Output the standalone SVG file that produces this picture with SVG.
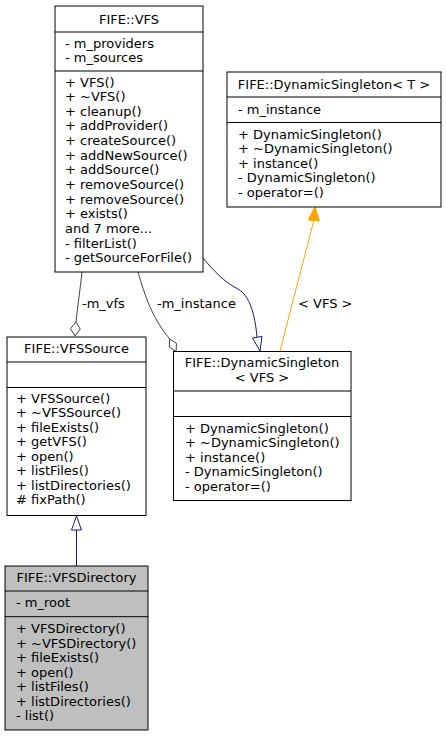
<svg xmlns="http://www.w3.org/2000/svg" width="446" height="736" viewBox="0 0 446 736">
<style>
.t{font-family:"DejaVu Sans",sans-serif;font-size:13px;fill:#000}
.c{text-anchor:middle}
.box{fill:#fff;stroke:#000;stroke-width:1}
.gbox{fill:#bfbfbf;stroke:#000;stroke-width:1}
.sep{stroke:#000;stroke-width:1}
.inh{fill:none;stroke:#191970;stroke-width:1}
.inhh{fill:#fff;stroke:#191970;stroke-width:1}
.cmp{fill:none;stroke:#404040;stroke-width:1}
.cmph{fill:#fff;stroke:#404040;stroke-width:1}
.tpl{fill:none;stroke:#ffa500;stroke-width:1}
.tplh{fill:#ffa500;stroke:#ffa500;stroke-width:1}
</style>
<rect width="446" height="736" fill="#fff"/>
<g id="edges">
  <g id="e_dir_src">
    <path class="inh" d="M76.5,566 L76.5,530"/>
    <polygon class="inhh" points="76.5,516 71.5,530 81.5,530"/>
  </g>
  <g id="e_vfs_src">
    <path class="cmp" d="M82,272 C80,290 77.5,308 76,322"/>
    <polygon class="cmph" points="76,322 80.2,329 75,336 70.5,328.7"/>
    <text class="t" x="82" y="307.5">-m_vfs</text>
  </g>
  <g id="e_vfs_ds">
    <path class="cmp" d="M138,272 C145,296 152,318 169.7,339"/>
    <polygon class="cmph" points="169.7,339 176.5,343.4 176,351.5 169.3,347"/>
    <text class="t" x="157" y="307.5">-m_instance</text>
  </g>
  <g id="e_ds_vfs">
    <path class="inh" d="M203,258 C214,271 224,282 238,289 C250,296 255,315 257,337"/>
    <polygon class="inhh" points="260,351 252.5,338 262,336.5"/>
  </g>
  <g id="e_ds_tpl">
    <path class="tpl" d="M280,351 L313.8,220.5"/>
    <polygon class="tplh" points="315,206.5 308.3,220 319.3,221"/>
    <text class="t" x="298" y="307.5">&lt; VFS &gt;</text>
  </g>
</g>
<g id="n_vfs">
  <rect class="box" x="55" y="6" width="148" height="266"/>
  <line class="sep" x1="55" y1="32" x2="203" y2="32"/>
  <line class="sep" x1="55" y1="71" x2="203" y2="71"/>
  <text class="t c" x="129" y="23.5">FIFE::VFS</text>
  <text class="t" x="65" y="47.5">- m_providers</text>
  <text class="t" x="65" y="62">- m_sources</text>
  <text class="t" x="65" y="86.5">+ VFS()</text>
  <text class="t" x="65" y="101.15">+ ~VFS()</text>
  <text class="t" x="65" y="115.8">+ cleanup()</text>
  <text class="t" x="65" y="130.45">+ addProvider()</text>
  <text class="t" x="65" y="145.1">+ createSource()</text>
  <text class="t" x="65" y="159.75">+ addNewSource()</text>
  <text class="t" x="65" y="174.4">+ addSource()</text>
  <text class="t" x="65" y="189.05">+ removeSource()</text>
  <text class="t" x="65" y="203.7">+ removeSource()</text>
  <text class="t" x="65" y="218.35">+ exists()</text>
  <text class="t" x="65" y="233">and 7 more...</text>
  <text class="t" x="65" y="247.65">- filterList()</text>
  <text class="t" x="65" y="262.3">- getSourceForFile()</text>
</g>
<g id="n_dstpl">
  <rect class="box" x="227" y="72" width="214" height="135"/>
  <line class="sep" x1="227" y1="97" x2="441" y2="97"/>
  <line class="sep" x1="227" y1="122.5" x2="441" y2="122.5"/>
  <text class="t c" x="334" y="88.5">FIFE::DynamicSingleton&lt; T &gt;</text>
  <text class="t" x="238" y="113.5">- m_instance</text>
  <text class="t" x="238" y="138.5">+ DynamicSingleton()</text>
  <text class="t" x="238" y="153">+ ~DynamicSingleton()</text>
  <text class="t" x="238" y="167.5">+ instance()</text>
  <text class="t" x="238" y="182">- DynamicSingleton()</text>
  <text class="t" x="238" y="196.5">- operator=()</text>
</g>
<g id="n_dsvfs">
  <rect class="box" x="173.5" y="351.5" width="177.5" height="149"/>
  <line class="sep" x1="173.5" y1="391" x2="351" y2="391"/>
  <line class="sep" x1="173.5" y1="416.5" x2="351" y2="416.5"/>
  <text class="t c" x="262" y="367">FIFE::DynamicSingleton</text>
  <text class="t c" x="262" y="381.7">&lt; VFS &gt;</text>
  <text class="t" x="185" y="432.8">+ DynamicSingleton()</text>
  <text class="t" x="185" y="447.3">+ ~DynamicSingleton()</text>
  <text class="t" x="185" y="461.8">+ instance()</text>
  <text class="t" x="185" y="476.3">- DynamicSingleton()</text>
  <text class="t" x="185" y="490.8">- operator=()</text>
</g>
<g id="n_src">
  <rect class="box" x="7" y="337" width="139" height="178.5"/>
  <line class="sep" x1="7" y1="362" x2="146" y2="362"/>
  <line class="sep" x1="7" y1="387.5" x2="146" y2="387.5"/>
  <text class="t c" x="76.5" y="353">FIFE::VFSSource</text>
  <text class="t" x="16" y="402.8">+ VFSSource()</text>
  <text class="t" x="16" y="417.3">+ ~VFSSource()</text>
  <text class="t" x="16" y="431.8">+ fileExists()</text>
  <text class="t" x="16" y="446.3">+ getVFS()</text>
  <text class="t" x="16" y="460.8">+ open()</text>
  <text class="t" x="16" y="475.3">+ listFiles()</text>
  <text class="t" x="16" y="489.8">+ listDirectories()</text>
  <text class="t" x="16" y="504.3"># fixPath()</text>
</g>
<g id="n_dir">
  <rect class="gbox" x="5" y="566" width="143" height="164"/>
  <line class="sep" x1="5" y1="591" x2="148" y2="591"/>
  <line class="sep" x1="5" y1="616.7" x2="148" y2="616.7"/>
  <text class="t c" x="76.5" y="582">FIFE::VFSDirectory</text>
  <text class="t" x="16" y="606.8">- m_root</text>
  <text class="t" x="16" y="633.2">+ VFSDirectory()</text>
  <text class="t" x="16" y="647.7">+ ~VFSDirectory()</text>
  <text class="t" x="16" y="662.2">+ fileExists()</text>
  <text class="t" x="16" y="676.7">+ open()</text>
  <text class="t" x="16" y="691.2">+ listFiles()</text>
  <text class="t" x="16" y="705.7">+ listDirectories()</text>
  <text class="t" x="16" y="720.2">- list()</text>
</g>
</svg>
